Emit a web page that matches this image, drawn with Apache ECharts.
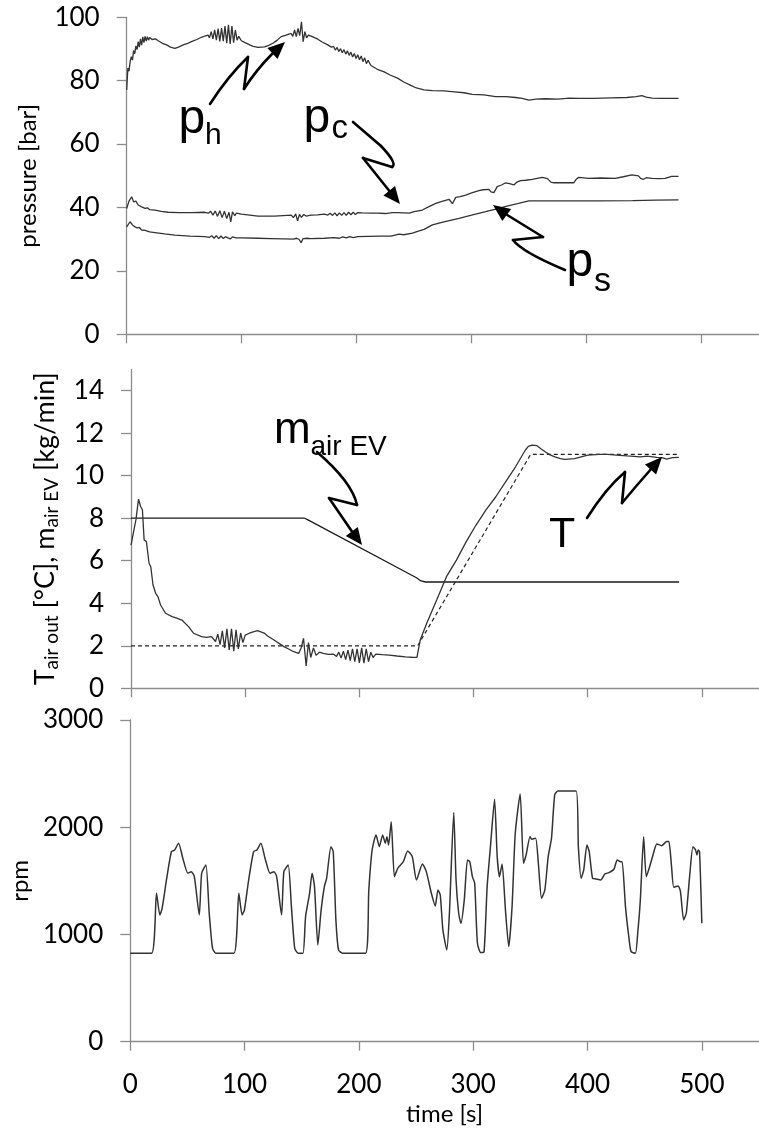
<!DOCTYPE html>
<html><head><meta charset="utf-8">
<script src="https://cdn.jsdelivr.net/npm/echarts@6/dist/echarts.min.js"></script>
<style>html,body{margin:0;padding:0;background:#fff}#c{width:759px;height:1128px}</style>
</head><body><div id="c"></div>
<script>
// ---- tick labels ----
const timeTicks = [0, 100, 200, 300, 400, 500];
const pressureTicks = [0, 20, 40, 60, 80, 100];
const tempTicks = [0, 2, 4, 6, 8, 10, 12, 14];
const rpmTicks = [0, 1000, 2000, 3000];

// ---- top panel: pressures [bar] vs time [s] ----
const pH = [[0,77.1],[1,84],[2,83],[3,86],[4,87.6],[5,86.5],[6,89.5],[7,88.5],[8,91],[9,89.8],[10,92.3],[11,90.6],[12,93.2],[13,91.2],[14,93.8],[15,92],[16,94],[17,92.5],[18,93.9],[19,92.8],[20,93.6],[22,93],[25,93.2],[27.4,92.6],[31,91.8],[34.7,91.3],[38,90.6],[41.9,90.2],[45,90.6],[49.1,91.3],[53,91.8],[56.3,92.3],[61,93],[65,93.7],[68,94.1],[70.8,94.4],[72,93.5],[73.5,95.5],[75,93.2],[76.5,96],[78,92.8],[79.5,96.4],[81,92.4],[82.5,96.6],[84,92.5],[85.5,97.2],[87,91.8],[88.5,97.6],[90,91.6],[91.5,97.2],[93,92],[94.5,96],[96,92.8],[97.5,94],[99.7,92.6],[103,92],[107,91.3],[110,90.8],[114.2,90.5],[120,90.7],[124,91.2],[127.2,91.8],[131,92.8],[134.4,93.9],[138,94.3],[141,94.7],[143.1,94.9],[144.5,94],[146,96],[147.5,93.9],[149,96.5],[150.5,94.2],[152,98.6],[153.5,92.3],[155,95.5],[156.5,93.5],[158,94.4],[162,93.8],[166.2,93.1],[170,92.2],[174.9,91.3],[178,90.6],[180,90.8],[181.5,89.6],[183,90.5],[184.5,89.2],[186,90.1],[187.5,88.8],[189,89.8],[190.5,88.4],[192,89.4],[193.5,88],[195,89],[196.5,87.5],[198,88.6],[199.5,87],[201,88.2],[202.5,86.6],[204,87.8],[205.5,86],[207,87.2],[208.5,85.4],[210,86.4],[212.4,84.8],[218,83.6],[224,82.8],[229,81.8],[235.6,80.8],[241,79.6],[247.1,78.5],[252,77.7],[258.7,77.1],[266,76.9],[276,76.8],[285,76.5],[293.4,76.2],[300.6,75.7],[310.8,75.5],[320.9,75],[330,75],[338.3,74.7],[344,74.4],[349.8,73.9],[356,74.2],[364.3,74.3],[375,74.2],[385,74.5],[393.2,74.4],[405,74.4],[422,74.6],[435,74.7],[443,75],[448.1,75.3],[452,74.8],[456.8,74.5],[465,74.4],[480,74.4]];
const pC = [[0,39.7],[2,42],[4.3,43.4],[6,41.8],[8,42],[10,40.8],[11.5,41.3],[13,40.2],[14.5,40.6],[16,39.7],[18,39.9],[20,39.3],[24.5,39.2],[30,38.8],[36.1,38.5],[45,38.4],[56.3,38.4],[67.9,38.5],[71,38.2],[73,38.8],[75,37.6],[77,38.9],[79,37.2],[81,39],[83,36.8],[85,38.8],[87,36.5],[89,38.5],[90.5,35.5],[92,38.6],[94,37.4],[95.4,38.2],[99.7,37.9],[107,37.6],[114.2,37.3],[128.6,37.3],[143.1,37.6],[145,36.8],[147,38],[148.6,35.8],[150.3,37.8],[152,36.9],[154,37.8],[156,37.3],[160.4,37.6],[166,37.7],[172,37.9],[175,37.6],[177,38.2],[179,37.5],[181,38.3],[183,37.4],[185,38.3],[187,37.5],[189,38.4],[191,37.5],[193,38.5],[195,37.7],[197,38.5],[199,37.8],[201,38.4],[205,38.3],[212,38.2],[218.3,38.2],[225,38.1],[231,38.4],[235.6,38.4],[241,38.3],[245.7,38.2],[250,38.7],[257.2,39.2],[262,40.1],[268.9,41.3],[275,42],[280.4,42.6],[283.3,41.2],[286.2,43.2],[290,43.4],[294.9,43.9],[300,44.6],[306.4,45.3],[310,45.6],[315.1,45.7],[317,44.9],[319.4,44.7],[322.3,46.6],[326,47.1],[329.6,47.8],[333,47.5],[336.8,47.1],[339,47.9],[342.6,48.5],[347,48.6],[352.7,48.9],[357,49.2],[361.4,49.5],[366,49.1],[369,48],[371.5,47.8],[380,47.8],[388.8,47.8],[391,48.9],[393.2,49.5],[401.9,49.2],[412,49.3],[425,49.2],[432,49.7],[439.4,50.3],[445.2,50],[447,49.2],[449.5,48.9],[452,49.4],[456.7,49.2],[463,49.1],[468.3,49.2],[474,49.8],[480,49.8]];
const pS = [[0,33.9],[2.9,35.5],[5,34.5],[7.2,33.9],[9,33.6],[11,33.7],[13,32.9],[16,32.8],[20,32.3],[24.5,32.1],[33,31.7],[41.9,31.3],[55,31],[67.9,30.8],[72,30.6],[74,31.1],[76,30.3],[78,31.1],[80,30.2],[82,31],[84,30.2],[86,30.8],[88,30.4],[90,30.1],[92,30.7],[95,30.4],[100,30.4],[114.2,30.3],[125,30.2],[137.3,30.1],[145,30],[148,30.3],[150,29.9],[151.7,28.9],[153.5,30.2],[155,29.7],[157,30.3],[160,30.2],[172,30.3],[180,30.5],[185,30.3],[188,30.7],[191,30.4],[194,30.8],[197,30.5],[200.9,30.8],[210,30.9],[220,31],[229.8,31],[237,31.6],[241,31.4],[248.6,31.9],[253,32.5],[258.7,33.1],[265.9,34.5],[275,35.4],[289.1,36.6],[300,37.6],[312.2,38.7],[322,39.6],[332.4,40.6],[340,41.2],[349.8,42.1],[355,42.1],[367.2,42.1],[390,42.1],[410.5,42.1],[440,42.2],[460,42.3],[480,42.4]];

// ---- middle panel: T air out [°C] (measured + set point), m air EV [kg/min] ----
const tAirOut = [[0,6.74],[1.4,6.74],[4.3,7.92],[6.6,8.9],[8.5,8.54],[10,8.4],[11.5,6.98],[13.5,6.9],[15.8,5.88],[17.3,5.72],[19.3,4.86],[21.6,4.47],[23.6,4.31],[25.9,3.92],[30.2,3.53],[36,3.37],[40,3.3],[44.6,3.21],[50.4,2.9],[54.7,2.59],[61.9,2.43],[66,2.4],[70.5,2.43],[72,2.35],[74,2.2],[76,2.55],[78,2.05],[80,2.7],[82,1.9],[84,2.8],[86,1.8],[88,2.8],[90,1.75],[92,2.75],[94,1.85],[96,2.6],[98,2.15],[100,2.5],[103.6,2.59],[107,2.65],[110.8,2.71],[116.6,2.6],[120,2.45],[125.2,2.27],[130,2.1],[133.9,1.96],[138,1.85],[142.5,1.72],[146.8,1.64],[149,1.9],[151.1,2.35],[153.4,1.05],[155.4,2.15],[157.4,1.45],[159.8,1.9],[162.1,1.55],[165,1.7],[168.4,1.64],[173,1.6],[177,1.61],[180,1.5],[182,1.7],[184,1.42],[186,1.75],[188,1.35],[190,1.8],[192,1.3],[194,1.85],[196,1.25],[198,1.85],[200,1.2],[202,1.9],[204,1.18],[206,1.85],[208,1.25],[210,1.7],[212,1.45],[214.4,1.61],[220,1.58],[226,1.56],[233,1.52],[240.4,1.48],[246,1.46],[250.4,1.45],[253.3,2.27],[259,3.06],[267.7,4.15],[276.3,5.25],[285,6.03],[293.6,6.9],[302.2,7.68],[310.9,8.39],[319.5,9.01],[328.2,9.72],[336.8,10.42],[345.4,11.21],[348,11.38],[351.2,11.44],[355.5,11.41],[359,11.27],[362.7,11.13],[367,10.98],[371.3,10.89],[376,10.8],[380,10.77],[388.6,10.8],[395,10.9],[400.1,10.97],[410,11],[417.4,11],[425,10.97],[434.6,10.93],[446.1,10.89],[452,10.92],[460.5,10.86],[465,10.85],[469.2,10.78],[474,10.85],[479.8,10.86]];
const tSetPoint = [[0,2],[251,2],[350,11],[480,11]];
const mAirEV = [[0,8],[152,8],[155,7.92],[250,5.2],[254,5.05],[258,5],[480,5]];

// ---- bottom panel: compressor speed [rpm] ----
const rpm = [[0,825],[18.7,825],[23,1384],[25.9,1182],[27.9,1244],[31.7,1508],[36,1772],[38.9,1788],[42.3,1851],[46,1711],[50.4,1571],[53.3,1586],[56.1,1539],[60.4,1182],[62.5,1571],[66.2,1648],[69.1,1198],[72,871],[74.9,825],[90.7,825],[95,1384],[97.9,1182],[99.9,1230],[103.6,1508],[107.9,1772],[110.8,1788],[114.3,1851],[117.9,1711],[122.3,1571],[125.8,1586],[128.1,1539],[132.4,1182],[134.4,1586],[138.2,1648],[141,1260],[143.9,871],[146.8,825],[151.1,825],[153.4,1167],[156.9,1384],[159.1,1571],[161.2,1446],[164.1,902],[167,1230],[169.8,1446],[171.8,1524],[175.6,1819],[177.6,1772],[179.9,1136],[182.2,856],[185.6,825],[205.8,825],[208.7,1415],[211.6,1788],[215,1928],[217.9,1819],[220.8,1928],[223.1,1851],[224.5,1912],[226,1835],[228.3,2052],[231.1,1539],[234,1617],[238.9,1679],[242.7,1778],[246.7,1726],[250.4,1508],[255.6,1658],[259,1586],[263.4,1384],[266.8,1266],[269.2,1415],[271.2,1368],[273.5,1042],[276.9,856],[279.2,1198],[283,2137],[285,1508],[287.3,1198],[289.3,1104],[292.2,1322],[295,1695],[297,1679],[299.3,1539],[301.3,1477],[303.7,918],[306.6,831],[309.5,840],[312.2,1446],[315.1,1819],[318.7,2261],[321,1726],[323,1539],[325.3,1658],[328.2,1230],[331.1,887],[334,1260],[336.8,1944],[341.1,2311],[344,1664],[346.3,1742],[349.7,1912],[351.2,1888],[354.6,1897],[357,1664],[359.8,1337],[362.7,1415],[365.6,1726],[368.5,1897],[371.3,2302],[374.2,2339],[390,2339],[392,1819],[394.4,1524],[396.7,1602],[399.5,1835],[401.5,1772],[404.4,1524],[407.3,1518],[411.6,1508],[415.1,1564],[418.8,1577],[423.1,1608],[426,1695],[428.9,1679],[430.3,1679],[433.2,1260],[436.1,980],[438.1,840],[441.9,825],[443.9,1011],[446.2,1322],[449.1,1912],[451.4,1539],[454.8,1648],[457.7,1757],[460.6,1844],[464.9,1828],[469.2,1866],[471.2,1866],[473.5,1633],[475.5,1440],[479.3,1453],[481.3,1400],[484.1,1136],[486.4,1198],[489.3,1539],[492.2,1819],[494.5,1788],[495.7,1742],[496.8,1788],[498,1772],[500,1104]];

const AX = '#8c8c8c', TXT = '#000', LINE = '#333';
const LF = 'Lato, "Open Sans", sans-serif';
const AF = '"Liberation Sans", Arial, sans-serif';
const plain = v => String(v);

function xAx(gi, labels) {
  return {
    type: 'value', gridIndex: gi, min: 0, max: 550, interval: 100,
    axisLine: {show: true, onZero: false, lineStyle: {color: AX, width: 1.3}},
    axisTick: {show: true, length: 9, customValues: timeTicks, lineStyle: {color: AX, width: 1.3}},
    axisLabel: {show: labels, customValues: timeTicks, formatter: plain, margin: 30, fontFamily: LF, fontSize: 26, color: TXT},
    splitLine: {show: false},
    name: labels ? 'time [s]' : '', nameLocation: 'middle', nameGap: 61,
    nameTextStyle: {fontFamily: LF, fontSize: 24, color: TXT}
  };
}
function yAx(gi, min, max, interval, ticks, name, gap, rich) {
  return {
    type: 'value', gridIndex: gi, min: min, max: max, interval: interval,
    axisLine: {show: true, lineStyle: {color: AX, width: 1.3}},
    axisTick: {show: true, length: 10, customValues: ticks, lineStyle: {color: AX, width: 1.3}},
    axisLabel: {customValues: ticks, formatter: plain, margin: 27, fontFamily: LF, fontSize: 26, color: TXT},
    splitLine: {show: false},
    name: name, nameLocation: 'middle', nameGap: gap,
    nameTextStyle: Object.assign({fontFamily: LF, fontSize: 24, color: TXT}, rich ? {rich: rich} : {})
  };
}
function ln(data, xi, color, width, type, smooth) {
  return {type: 'line', xAxisIndex: xi, yAxisIndex: xi, data: data, showSymbol: false, symbol: 'none',
    smooth: smooth || false, lineStyle: {color: color, width: width, type: type || 'solid'}, z: 3};
}

// ---- annotation arrows (pixel layout of callouts) ----
const ST = {stroke: '#000', lineWidth: 2.6, fill: null, lineCap: 'round', lineJoin: 'round'};
function seg(a, b) { return {type: 'line', shape: {x1: a[0], y1: a[1], x2: b[0], y2: b[1]}, style: ST, z: 50}; }
function crv(a, c, b) { return {type: 'bezierCurve', shape: {x1: a[0], y1: a[1], cpx1: c[0], cpy1: c[1], x2: b[0], y2: b[1]}, style: ST, z: 50}; }
function head(tip, from) {
  const dx = tip[0] - from[0], dy = tip[1] - from[1], L = Math.hypot(dx, dy), ux = dx / L, uy = dy / L;
  const len = 17, hw = 7.5, bx = tip[0] - ux * len, by = tip[1] - uy * len;
  return {type: 'polygon', shape: {points: [tip, [bx - uy * hw, by + ux * hw], [bx + uy * hw, by - ux * hw]]}, style: {fill: '#000'}, z: 51};
}
function txt(s, x, y, fs) {
  return {type: 'text', x: x, y: y, z: 52, style: {text: s, fontFamily: AF, fontSize: fs, fill: '#000', verticalAlign: 'middle', align: 'left'}};
}
const graphics = [
  // p_h
  crv([210,104],[228,76],[248,57]), seg([248,57],[244,89]), crv([244,89],[256,70],[273,53]), head([285,42],[273,53]),
  txt('p', 178.5, 120, 48), txt('h', 205, 136, 30),
  // p_c
  seg([353,122],[381,146]), crv([381,146],[398,164],[392,167]), seg([392,167],[363,158]), seg([363,158],[391,193]), head([400,204],[391,193]),
  txt('p', 303.5, 119, 48), txt('c', 331.5, 129, 33),
  // p_s
  crv([565,270],[522,252],[513,240]), seg([513,240],[543,237]), seg([543,237],[504,213]), head([493,205],[504,213]),
  txt('p', 566.5, 263, 48), txt('s', 594, 281.5, 34),
  // m air EV
  crv([317,452],[352,482],[357,505]), seg([357,505],[329,498]), seg([329,498],[353,533]), head([362,545],[353,533]),
  txt('m', 274, 431, 44), txt('air EV', 310.5, 447, 28),
  // T
  crv([587,518],[606,488],[625,472]), seg([625,472],[622,503]), crv([622,503],[636,486],[652,468]), head([662,457],[652,468]),
  txt('T', 549, 535, 43)
];

const chart = echarts.init(document.getElementById('c'), null, {renderer: 'canvas'});
chart.setOption({
  animation: false,
  backgroundColor: '#fff',
  grid: [
    {left: 126.7, top: 17.3, width: 634.2, height: 317, containLabel: false},
    {left: 131, top: 369.4, width: 635.3, height: 318.9, containLabel: false},
    {left: 130, top: 720, width: 636.9, height: 321.7, containLabel: false}
  ],
  xAxis: [xAx(0, false), xAx(1, false), xAx(2, true)],
  yAxis: [
    yAx(0, 0, 100, 20, pressureTicks, 'pressure [bar]', 86),
    yAx(1, 0, 15, 1, tempTicks, '{m|T}{s|air out}{m| [°C], m}{s|air EV}{m| [kg/min]}', 70,
      {m: {fontFamily: LF, fontSize: 27, color: TXT, lineHeight: 32},
       s: {fontFamily: LF, fontSize: 19, color: TXT, lineHeight: 15, verticalAlign: 'bottom'}}),
    yAx(2, 0, 3000, 1000, rpmTicks, 'rpm', 96)
  ],
  series: [
    ln(pH, 0, LINE, 1.3), ln(pC, 0, LINE, 1.3), ln(pS, 0, LINE, 1.3),
    ln(mAirEV, 1, '#1a1a1a', 1.3), ln(tSetPoint, 1, '#222', 1.2, [4, 3]), ln(tAirOut, 1, LINE, 1.3),
    ln(rpm, 2, LINE, 1.5, null, 0.2)
  ],
  graphic: graphics
});
</script></body></html>
